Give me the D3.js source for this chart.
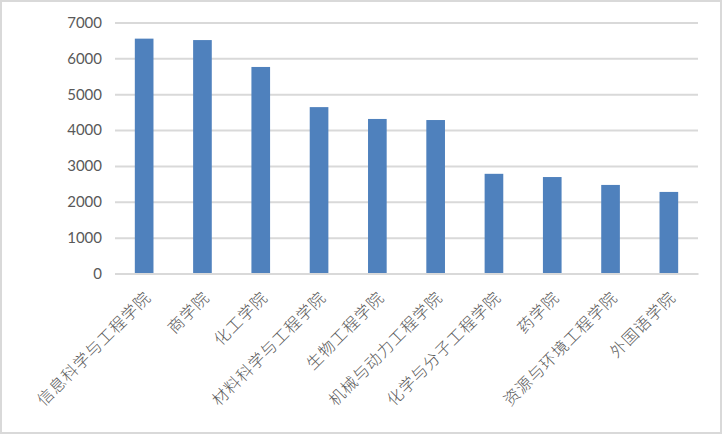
<!DOCTYPE html>
<html><head><meta charset="utf-8">
<script src="https://cdn.jsdelivr.net/npm/d3@7"></script>
<style>body{margin:0;background:#fff}svg{display:block}</style>
</head><body><svg id="c" width="722" height="434"></svg>
<script>
const categories = ["信息科学与工程学院","商学院","化工学院","材料科学与工程学院","生物工程学院","机械与动力工程学院","化学与分子工程学院","药学院","资源与环境工程学院","外国语学院"];
const values = [6550, 6510, 5760, 4640, 4310, 4280, 2780, 2690, 2470, 2275];
const yTicks = [0,1000,2000,3000,4000,5000,6000,7000];

const svg = d3.select("#c");
const W = 722, H = 434;
const m = {left:115, right:24, top:22.5, bottom:160.5};
svg.append("rect").attr("x",1).attr("y",1).attr("width",W-2).attr("height",H-2)
  .attr("fill","#fff").attr("stroke","#d9d9d9").attr("stroke-width",2);

const x = d3.scaleBand().domain(categories).range([m.left, W-m.right]).paddingInner(0.68).paddingOuter(0.34);
const y = d3.scaleLinear().domain([0,7000]).range([H-m.bottom, m.top]);

const gy = svg.append("g").attr("transform",`translate(${m.left},0)`)
  .call(d3.axisLeft(y).tickValues(yTicks).tickSize(-(W-m.left-m.right)).tickPadding(13).tickFormat(d3.format("d")));
gy.select(".domain").remove();
gy.selectAll(".tick line").attr("stroke","#d9d9d9").attr("stroke-width",2);
gy.selectAll(".tick text").attr("fill","#595959").attr("font-family","Lato, 'Open Sans', sans-serif").attr("font-size","15px");

svg.append("g").selectAll("rect").data(values).join("rect")
  .attr("x",(d,i)=>x(categories[i])).attr("width",x.bandwidth())
  .attr("y",d=>y(d)).attr("height",d=>y(0)-y(d)).attr("fill","#4f81bd");

const gx = svg.append("g").attr("transform",`translate(0,${y(0)})`)
  .call(d3.axisBottom(x).tickSize(0).tickPadding(0));
gx.select(".domain").attr("stroke","#d9d9d9").attr("stroke-width",2);
gx.selectAll(".tick text").attr("fill","#595959")
  .attr("font-family","'Noto Sans CJK SC', sans-serif").attr("font-weight","300").attr("font-size","16px")
  .attr("letter-spacing","1px")
  .attr("text-anchor","end").attr("dy","0")
  .attr("transform","translate(8,25) rotate(-45)");
</script></body></html>
